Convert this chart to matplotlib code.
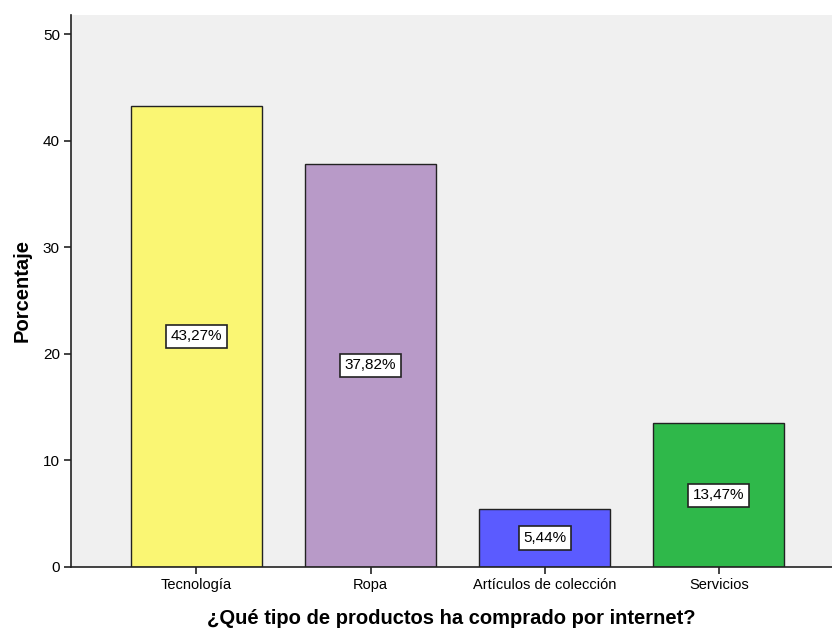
import numpy as np
import matplotlib.pyplot as plt

plt.rcParams['font.family'] = ['Liberation Sans', 'DejaVu Sans']

categorias = ['Tecnología', 'Ropa', 'Artículos de colección', 'Servicios']
porcentajes = [43.27, 37.82, 5.44, 13.47]
colores = ['#faf673', '#b89ac8', '#5b5bff', '#2fb84a']
yticks = [0, 10, 20, 30, 40, 50]

fig = plt.figure(figsize=(8.32, 6.29), dpi=100)
ax = fig.add_axes([0.0853, 0.0986, 0.9147, 0.8776])
ax.set_facecolor('#f0f0f0')

x = np.arange(len(categorias))
ax.bar(x, porcentajes, width=0.75, color=colores, edgecolor='#222222', linewidth=1.0, zorder=2)

for xi, v in zip(x, porcentajes):
    etiqueta = ('%.2f%%' % v).replace('.', ',')
    ax.text(xi, v / 2, etiqueta, ha='center', va='center', fontsize=11, zorder=3,
            bbox=dict(boxstyle='square,pad=0.3', facecolor='white', edgecolor='#222222', linewidth=1.2))

ax.set_xlim(-0.72, 3.65)
ax.set_ylim(0, 51.8)
ax.set_xticks(x)
ax.set_xticklabels(categorias, fontsize=10.5)
ax.set_yticks(yticks)
ax.set_yticklabels([str(t) for t in yticks], fontsize=11)
ax.tick_params(axis='both', direction='out', length=5, width=1.2, color='#222222', pad=3)

for s in ['top', 'right']:
    ax.spines[s].set_visible(False)
for s in ['left', 'bottom']:
    ax.spines[s].set_linewidth(1.2)
    ax.spines[s].set_color('#222222')

ax.set_xlabel('¿Qué tipo de productos ha comprado por internet?', fontsize=14.5, fontweight='bold', labelpad=12)
ax.set_ylabel('Porcentaje', fontsize=14.5, fontweight='bold', labelpad=8)

fig.savefig('out.png', dpi=100)
